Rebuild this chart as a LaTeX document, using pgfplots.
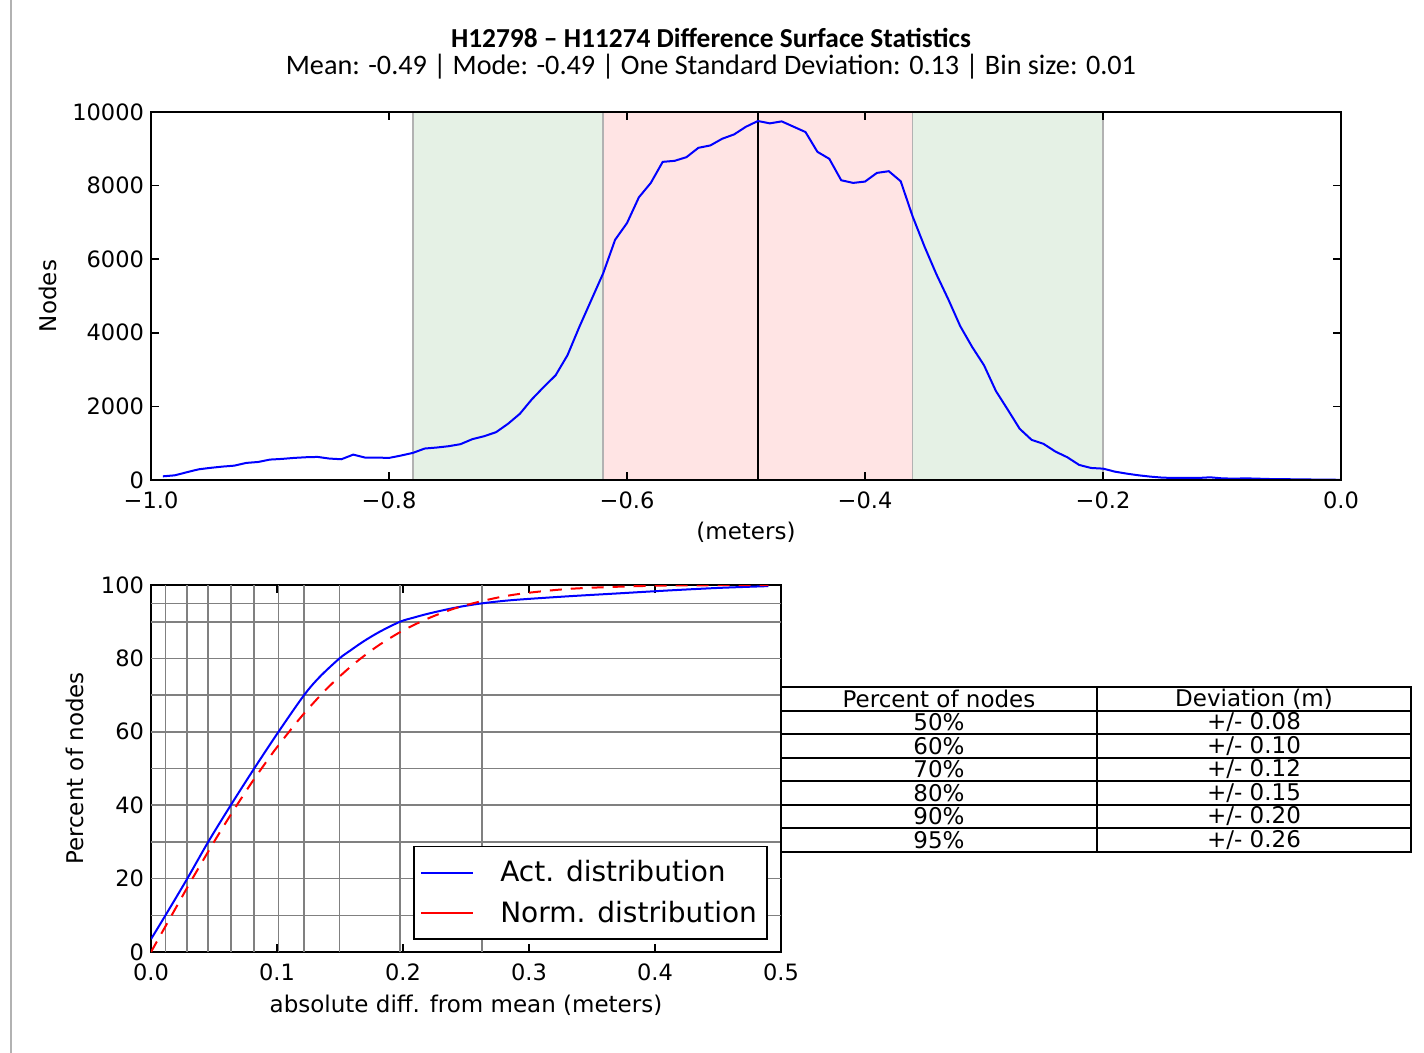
\documentclass[border=0pt]{standalone}
\usepackage{fontspec}
\setmainfont{DejaVu Sans}
\newfontfamily\titlefont{Carlito}
\usepackage{pgfplots}
\pgfplotsset{compat=1.18}

\pgfplotstableread{
x y
-0.99 100
-0.98 127
-0.97 210
-0.96 290
-0.95 330
-0.94 364
-0.93 390
-0.92 464
-0.91 490
-0.90 555
-0.89 573
-0.88 600
-0.87 618
-0.86 627
-0.85 582
-0.84 564
-0.83 690
-0.82 609
-0.81 609
-0.80 600
-0.79 664
-0.78 736
-0.77 855
-0.76 882
-0.75 918
-0.74 973
-0.73 1109
-0.72 1191
-0.71 1300
-0.70 1527
-0.69 1800
-0.68 2191
-0.67 2527
-0.66 2845
-0.65 3391
-0.64 4164
-0.63 4891
-0.62 5618
-0.61 6527
-0.60 6982
-0.59 7682
-0.58 8073
-0.57 8645
-0.56 8673
-0.55 8773
-0.54 9027
-0.53 9091
-0.52 9273
-0.51 9391
-0.50 9600
-0.49 9755
-0.48 9691
-0.47 9745
-0.46 9600
-0.45 9455
-0.44 8918
-0.43 8727
-0.42 8145
-0.41 8073
-0.40 8109
-0.39 8345
-0.38 8391
-0.37 8118
-0.36 7164
-0.35 6345
-0.34 5591
-0.33 4909
-0.32 4182
-0.31 3618
-0.30 3118
-0.29 2418
-0.28 1909
-0.27 1391
-0.26 1091
-0.25 982
-0.24 773
-0.23 618
-0.22 409
-0.21 327
-0.20 309
-0.19 227
-0.18 173
-0.17 127
-0.16 91
-0.15 64
-0.14 55
-0.13 55
-0.12 55
-0.11 73
-0.10 45
-0.09 36
-0.08 45
-0.07 36
-0.06 27
-0.05 27
-0.04 18
-0.03 18
-0.02 9
-0.01 9
0.00 5
}\histdata

\pgfplotstableread{
x y
0.0 3.5
0.0115 10
0.0288 20
0.0454 30
0.0633 40
0.0819 50
0.1012 60
0.1215 70
0.134 75.0
0.1496 80
0.158 82.1
0.1685 84.6
0.1817 87.3
0.1977 90
0.2083 91.1
0.2214 92.3
0.2426 93.9
0.2627 95
0.2873 95.9
0.33 96.9
0.37 97.7
0.41 98.5
0.45 99.2
0.49 99.7
}\actdata

\pgfplotstableread{
x y
0.0 0
0.01 6.1
0.02 12.2
0.03 18.3
0.04 24.2
0.05 30.0
0.06 35.6
0.07 41.0
0.08 46.2
0.09 51.1
0.10 55.8
0.12 64.4
0.14 71.9
0.16 78.2
0.18 83.4
0.20 87.6
0.22 90.9
0.24 93.5
0.26 95.4
0.28 96.9
0.30 97.9
0.33 98.9
0.36 99.4
0.40 99.8
0.45 99.95
0.49 99.99
}\normdata

\pgfplotsset{mplstyle/.style={
  scale only axis,
  axis line style={line width=1pt},
  tick style={black, line width=0.8pt},
  major tick length=4pt,
  tick pos=both,
  tick align=inside,
  ticklabel style={font=\fontsize{11.25}{13}\selectfont},
  xticklabel style={yshift=-2.5pt},
  label style={font=\fontsize{11.5}{13}\selectfont},
  /pgf/number format/assume math mode=true,
  scaled ticks=false,
}}

\begin{document}
\begin{tikzpicture}
\useasboundingbox (0,0) rectangle (712pt,-526.5pt);
\draw[black!30, line width=0.8pt] (5.5pt,0pt) -- (5.5pt,-526.5pt);

\node[font=\titlefont\bfseries\fontsize{13.7}{15}\selectfont] at (355.5pt,-19pt) {H12798 – H11274 Difference Surface Statistics};
\node[font=\titlefont\fontsize{14.1}{16}\selectfont] at (355.5pt,-33.5pt) {Mean: -0.49 | Mode: -0.49 | One Standard Deviation: 0.13 | Bin size: 0.01};

% top axis
\begin{axis}[mplstyle,
  at={(75.5pt,-56pt)}, anchor=north west,
  width=595pt, height=184pt,
  xmin=-1, xmax=0, ymin=0, ymax=10000,
  xtick={-1,-0.8,-0.6,-0.4,-0.2,0},
  xticklabels={−1.0,−0.8,−0.6,−0.4,−0.2,0.0},
  ytick={0,2000,4000,6000,8000,10000},
  yticklabels={0,2000,4000,6000,8000,10000},
  xlabel={(meters)}, ylabel={Nodes},
  xlabel style={at={(axis description cs:0.5,-0.141)}, anchor=center},
  ylabel style={at={(axis description cs:-0.0866,0.5)}, anchor=center},
  axis on top,
]
\addplot[draw=black!30, fill={rgb,255:red,229;green,241;blue,229}, line width=0.8pt] coordinates {(-0.78,0) (-0.78,10000) (-0.62,10000) (-0.62,0)} -- cycle;
\addplot[draw=black!30, fill={rgb,255:red,229;green,241;blue,229}, line width=0.8pt] coordinates {(-0.36,0) (-0.36,10000) (-0.20,10000) (-0.20,0)} -- cycle;
\addplot[draw=black!30, fill={rgb,255:red,255;green,228;blue,228}, line width=0.8pt] coordinates {(-0.62,0) (-0.62,10000) (-0.36,10000) (-0.36,0)} -- cycle;
\addplot[black, line width=1pt] coordinates {(-0.49,0) (-0.49,10000)};
\addplot[blue, line width=1pt] table[x=x,y=y] {\histdata};
\end{axis}

% bottom axis
\begin{axis}[mplstyle,
  at={(75.5pt,-292.5pt)}, anchor=north west,
  width=315pt, height=183.5pt,
  xmin=0, xmax=0.5, ymin=0, ymax=100,
  xtick={0,0.1,0.2,0.3,0.4,0.5},
  xticklabels={0.0,0.1,0.2,0.3,0.4,0.5},
  ytick={0,20,40,60,80,100},
  extra x ticks={0.0115,0.0288,0.0454,0.0633,0.0819,0.1012,0.1215,0.1496,0.1977,0.2627},
  extra x tick labels={},
  extra y ticks={10,20,30,40,50,60,70,80,90,95},
  extra y tick labels={},
  extra tick style={grid=major, major tick length=0pt, major grid style={black!50, line width=0.8pt}},
  xlabel={absolute diff. from mean (meters)}, ylabel={Percent of nodes},
  xlabel style={at={(axis description cs:0.5,-0.1444)}, anchor=center},
  ylabel style={at={(axis description cs:-0.1206,0.5)}, anchor=center},
  legend style={at={(0.979,0.033)}, anchor=south east, draw=black, line width=0.8pt,
    font=\fontsize{14}{17}\selectfont, inner xsep=3pt, inner ysep=5pt, row sep=4pt,
    nodes={inner sep=2pt}},
  legend cell align=left,
  legend image code/.code={\draw[#1, line width=1pt] (0pt,0pt) -- (20pt,0pt); \path (-6pt,0pt) -- (20pt,0pt);},
  /tikz/every odd column/.append style={column sep=11pt},
]
\addplot[blue, line width=1pt, smooth, tension=0.5] table[x=x,y=y] {\actdata};
\addlegendentry{Act. distribution}
\addplot[red, line width=1pt, dash pattern=on 6pt off 4.5pt, smooth, tension=0.5] table[x=x,y=y] {\normdata};
\addlegendentry{Norm. distribution}
\end{axis}

% table
\begin{scope}[line width=1pt]
\draw (390.5pt,-343.5pt) rectangle (705.5pt,-426pt);
\foreach \yy in {-355.5,-367,-379,-390.5,-402.5,-414} \draw (390.5pt,\yy pt) -- (705.5pt,\yy pt);
\draw (548.5pt,-343.5pt) -- (548.5pt,-426pt);
\end{scope}
\begin{scope}[every node/.style={font=\fontsize{11.5}{13}\selectfont, inner sep=0pt}]
\node at (469.5pt,-349.5pt) {Percent of nodes};
\node at (627pt,-349.5pt) {Deviation (m)};
\node at (469.5pt,-361.25pt) {50\%};
\node at (627pt,-361.25pt) {+/- 0.08};
\node at (469.5pt,-373pt) {60\%};
\node at (627pt,-373pt) {+/- 0.10};
\node at (469.5pt,-384.75pt) {70\%};
\node at (627pt,-384.75pt) {+/- 0.12};
\node at (469.5pt,-396.5pt) {80\%};
\node at (627pt,-396.5pt) {+/- 0.15};
\node at (469.5pt,-408.25pt) {90\%};
\node at (627pt,-408.25pt) {+/- 0.20};
\node at (469.5pt,-420pt) {95\%};
\node at (627pt,-420pt) {+/- 0.26};
\end{scope}
\end{tikzpicture}
\end{document}
